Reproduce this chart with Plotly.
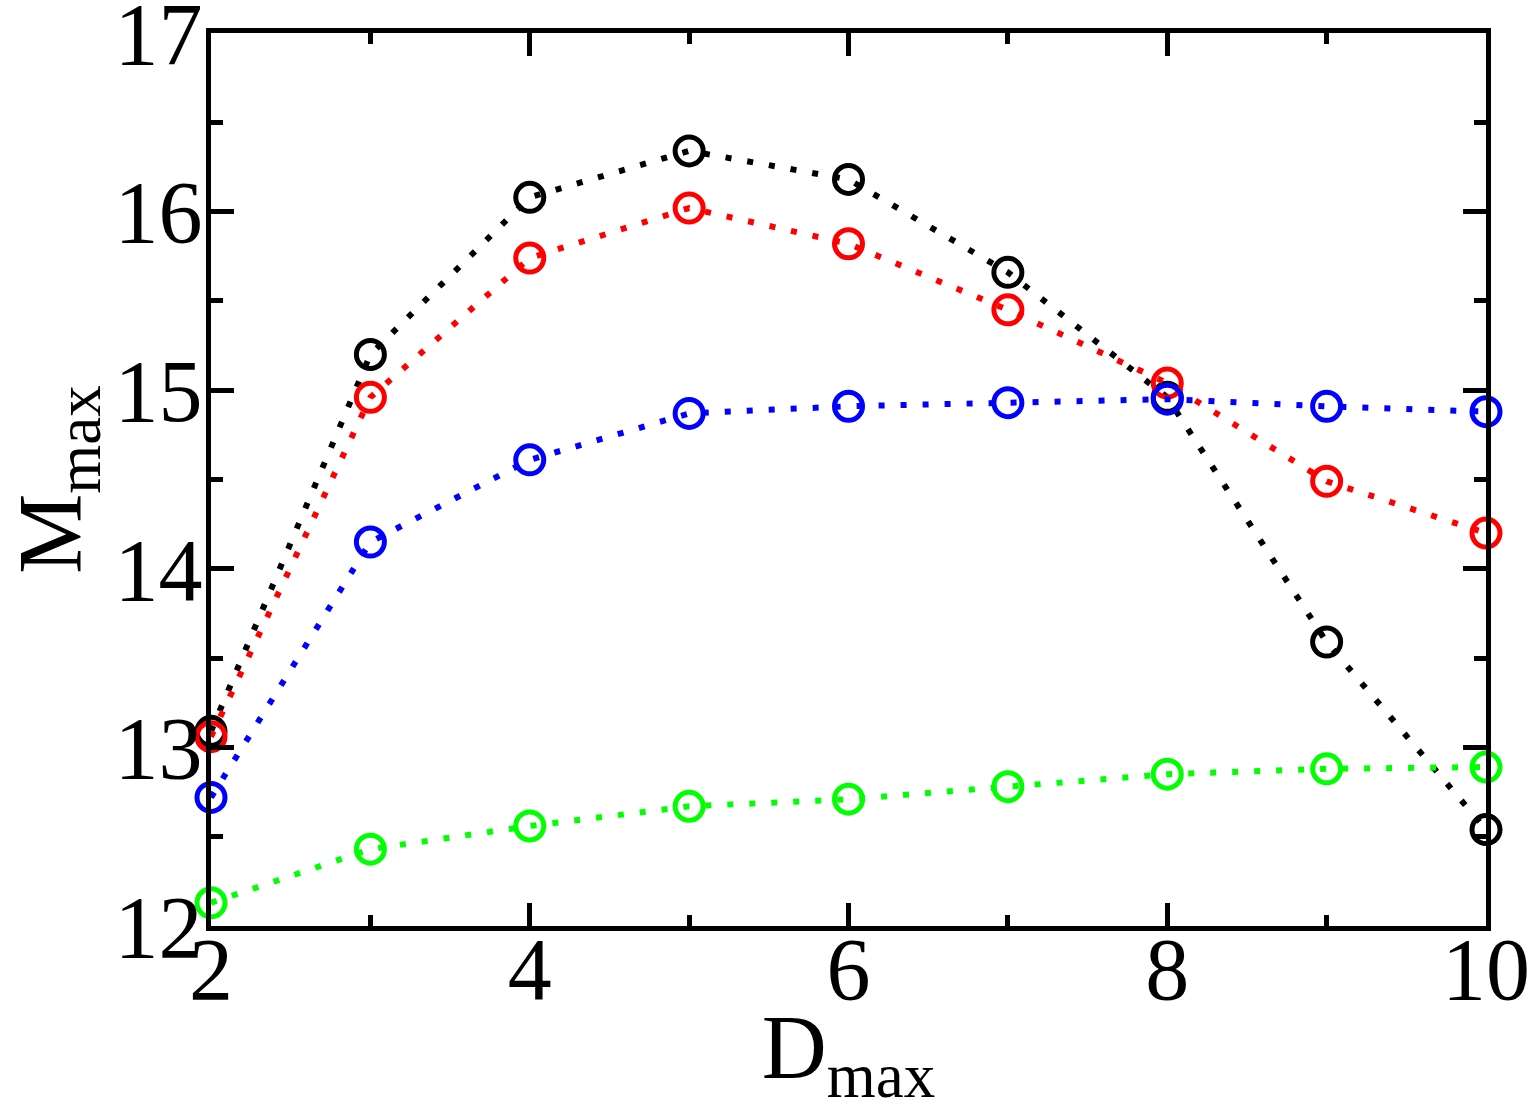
import plotly.graph_objects as go

d_max = [2, 3, 4, 5, 6, 7, 8, 9, 10]
black_vals = [13.09, 15.20, 16.08, 16.34, 16.18, 15.66, 14.96, 13.59, 12.54]
red_vals = [13.06, 14.96, 15.74, 16.02, 15.82, 15.45, 15.04, 14.49, 14.20]
blue_vals = [12.72, 14.15, 14.61, 14.87, 14.91, 14.93, 14.95, 14.91, 14.88]
green_vals = [12.13, 12.43, 12.56, 12.67, 12.71, 12.78, 12.85, 12.88, 12.89]

series = [
    ("black", black_vals, "#000000"),
    ("red", red_vals, "#ff0000"),
    ("blue", blue_vals, "#0000ff"),
    ("green", green_vals, "#00ff00"),
]

x_tickvals = [2, 4, 6, 8, 10]
y_tickvals = [12, 13, 14, 15, 16, 17]

fig = go.Figure()
for name, vals, color in series:
    fig.add_trace(go.Scatter(
        x=d_max, y=vals, name=name, mode="lines+markers",
        line=dict(color=color, width=6, dash="6px,16px"),
        marker=dict(symbol="circle-open", size=28, color=color,
                    line=dict(color=color, width=5)),
        cliponaxis=False, showlegend=False,
    ))

font_family = "Liberation Serif, Times New Roman, serif"
fig.update_layout(
    width=1534, height=1111,
    margin=dict(l=211, r=48, t=33, b=185),
    paper_bgcolor="white", plot_bgcolor="white",
    font=dict(family=font_family, color="black"),
    xaxis=dict(
        range=[2, 10], tickvals=x_tickvals, ticktext=[str(v) for v in x_tickvals],
        showgrid=False, zeroline=False, automargin=False,
        showline=True, linewidth=5, linecolor="black", mirror="ticks",
        ticks="inside", ticklen=23, tickwidth=5, tickcolor="black",
        minor=dict(dtick=1, tick0=2, ticks="inside", ticklen=11, tickwidth=5,
                   tickcolor="black", showgrid=False),
        tickfont=dict(size=88, family=font_family),
        ticklabeloverflow="allow", ticklabelstandoff=-38,
        title=dict(text="D<sub>max</sub>", font=dict(size=90, family=font_family), standoff=4),
    ),
    yaxis=dict(
        range=[12, 17], tickvals=y_tickvals, ticktext=[str(v) for v in y_tickvals],
        showgrid=False, zeroline=False, automargin=False,
        showline=True, linewidth=5, linecolor="black", mirror="ticks",
        ticks="inside", ticklen=23, tickwidth=5, tickcolor="black",
        minor=dict(dtick=0.5, tick0=12, ticks="inside", ticklen=12, tickwidth=5,
                   tickcolor="black", showgrid=False),
        tickfont=dict(size=88, family=font_family),
        ticklabeloverflow="allow", ticklabelstandoff=-14,
        title=dict(text="M<sub>max</sub>", font=dict(size=90, family=font_family), standoff=4),
    ),
)

fig.write_html("out.html")
